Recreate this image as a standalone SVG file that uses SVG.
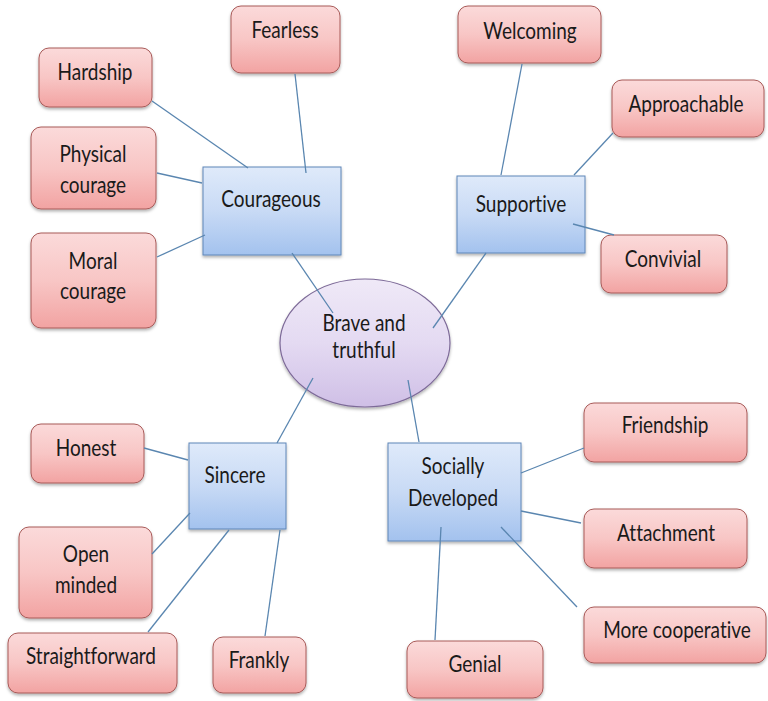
<svg xmlns="http://www.w3.org/2000/svg" width="768" height="701" viewBox="0 0 768 701">
<defs>
<linearGradient id="gPink" x1="0" y1="0" x2="0" y2="1">
<stop offset="0" stop-color="#fbdada"/>
<stop offset="0.5" stop-color="#f8c6c5"/>
<stop offset="1" stop-color="#f2a3a2"/>
</linearGradient>
<linearGradient id="gBlue" x1="0" y1="0" x2="0" y2="1">
<stop offset="0" stop-color="#dfeafa"/>
<stop offset="0.5" stop-color="#c8daf5"/>
<stop offset="1" stop-color="#a3c2ee"/>
</linearGradient>
<linearGradient id="gPurple" x1="0" y1="0" x2="0" y2="1">
<stop offset="0" stop-color="#efe9f7"/>
<stop offset="0.5" stop-color="#e4daf2"/>
<stop offset="1" stop-color="#cfbfe6"/>
</linearGradient>
<filter id="sh" x="-10%" y="-10%" width="120%" height="130%">
<feDropShadow dx="0" dy="2" stdDeviation="1.5" flood-color="#000" flood-opacity="0.3"/>
</filter>
</defs>
<style>
.p{fill:url(#gPink);stroke:#a85a58;stroke-width:1;filter:url(#sh)}
.b{fill:url(#gBlue);stroke:#5f86b8;stroke-width:1;filter:url(#sh)}
.e{fill:url(#gPurple);stroke:#7d6a98;stroke-width:1.2;filter:url(#sh)}
.t{font-family:Lato,"Liberation Sans",sans-serif;font-size:19px;fill:#1a1a1a;text-anchor:middle;font-variant-ligatures:none}
#connectors line{stroke:#5a86b0;stroke-width:1.3}
</style>
<rect width="768" height="701" fill="#ffffff"/>

<g id="center">
<ellipse class="e" cx="365" cy="343" rx="85" ry="64"/>
<text class="t" transform="translate(364,331) scale(1,1.18)">Brave and</text>
<text class="t" transform="translate(364,358) scale(1,1.18)">truthful</text>
</g>

<g id="courageous">
<rect class="b" x="203" y="167" width="138" height="88"/>
<text class="t" transform="translate(271,207) scale(1,1.18)">Courageous</text>
</g>
<g id="fearless">
<rect class="p" x="231" y="6" width="109" height="67" rx="10"/>
<text class="t" transform="translate(285,38) scale(1,1.18)">Fearless</text>
</g>
<g id="hardship">
<rect class="p" x="39" y="48" width="113" height="59" rx="10"/>
<text class="t" transform="translate(95,80) scale(1,1.18)">Hardship</text>
</g>
<g id="physical">
<rect class="p" x="31" y="127" width="125" height="82" rx="10"/>
<text class="t" transform="translate(93,162) scale(1,1.18)">Physical</text>
<text class="t" transform="translate(93,193) scale(1,1.18)">courage</text>
</g>
<g id="moral">
<rect class="p" x="31" y="233" width="125" height="95" rx="10"/>
<text class="t" transform="translate(93,269) scale(1,1.18)">Moral</text>
<text class="t" transform="translate(93,299) scale(1,1.18)">courage</text>
</g>

<g id="supportive">
<rect class="b" x="457" y="176" width="128" height="77"/>
<text class="t" transform="translate(521,212) scale(1,1.18)">Supportive</text>
</g>
<g id="welcoming">
<rect class="p" x="458" y="6" width="143" height="57" rx="10"/>
<text class="t" transform="translate(530,39) scale(1,1.18)">Welcoming</text>
</g>
<g id="approachable">
<rect class="p" x="612" y="80" width="152" height="57" rx="10"/>
<text class="t" transform="translate(686,112) scale(1,1.18)">Approachable</text>
</g>
<g id="convivial">
<rect class="p" x="601" y="235" width="126" height="58" rx="10"/>
<text class="t" transform="translate(663,267) scale(1,1.18)">Convivial</text>
</g>

<g id="sincere">
<rect class="b" x="189" y="443" width="97" height="86"/>
<text class="t" transform="translate(235,483) scale(1,1.18)">Sincere</text>
</g>
<g id="honest">
<rect class="p" x="31" y="424" width="113" height="59" rx="10"/>
<text class="t" transform="translate(86,456) scale(1,1.18)">Honest</text>
</g>
<g id="openminded">
<rect class="p" x="19" y="527" width="133" height="91" rx="10"/>
<text class="t" transform="translate(86,562) scale(1,1.18)">Open</text>
<text class="t" transform="translate(86,593) scale(1,1.18)">minded</text>
</g>
<g id="straightforward">
<rect class="p" x="8" y="633" width="169" height="60" rx="10"/>
<text class="t" transform="translate(91,664) scale(1,1.18)">Straightforward</text>
</g>
<g id="frankly">
<rect class="p" x="213" y="637" width="93" height="56" rx="10"/>
<text class="t" transform="translate(259,668) scale(1,1.18)">Frankly</text>
</g>

<g id="socially">
<rect class="b" x="388" y="443" width="133" height="98"/>
<text class="t" transform="translate(453,474) scale(1,1.18)">Socially</text>
<text class="t" transform="translate(453,506) scale(1,1.18)">Developed</text>
</g>
<g id="friendship">
<rect class="p" x="584" y="403" width="163" height="59" rx="10"/>
<text class="t" transform="translate(665,433) scale(1,1.18)">Friendship</text>
</g>
<g id="attachment">
<rect class="p" x="584" y="509" width="163" height="59" rx="10"/>
<text class="t" transform="translate(666,541) scale(1,1.18)">Attachment</text>
</g>
<g id="cooperative">
<rect class="p" x="584" y="607" width="182" height="56" rx="10"/>
<text class="t" transform="translate(677,638) scale(1,1.18)">More cooperative</text>
</g>
<g id="genial">
<rect class="p" x="407" y="641" width="136" height="57" rx="10"/>
<text class="t" transform="translate(475,672) scale(1,1.18)">Genial</text>
</g>

<g id="connectors">
<line x1="292" y1="253" x2="333" y2="313"/>
<line x1="152" y1="101" x2="248" y2="168"/>
<line x1="295" y1="74" x2="306" y2="173"/>
<line x1="157" y1="173" x2="202" y2="183"/>
<line x1="157" y1="257" x2="205" y2="235"/>
<line x1="486" y1="253" x2="433" y2="328"/>
<line x1="522" y1="64" x2="501" y2="175"/>
<line x1="613" y1="133" x2="574" y2="175"/>
<line x1="573" y1="224" x2="614" y2="235"/>
<line x1="277" y1="443" x2="313" y2="378"/>
<line x1="144" y1="448" x2="188" y2="460"/>
<line x1="152" y1="554" x2="190" y2="513"/>
<line x1="148" y1="632" x2="229" y2="530"/>
<line x1="265" y1="636" x2="280" y2="530"/>
<line x1="408" y1="380" x2="419" y2="442"/>
<line x1="521" y1="473" x2="584" y2="448"/>
<line x1="521" y1="511" x2="581" y2="523"/>
<line x1="501" y1="527" x2="577" y2="607"/>
<line x1="441" y1="527" x2="435" y2="640"/>
</g>
</svg>
